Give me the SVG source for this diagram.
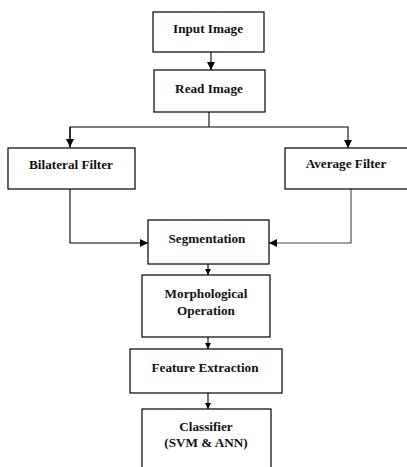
<svg xmlns="http://www.w3.org/2000/svg" width="407" height="467" viewBox="0 0 407 467">
<style>
.box{fill:#fff;stroke:#000;stroke-width:1.2}
.lbl{font-family:"Liberation Serif","Times New Roman",serif;font-weight:bold;font-size:13.2px;fill:#111;text-anchor:middle}
.ln{fill:none;stroke:#000;stroke-width:1.1}
</style>
<defs>
<marker id="ah" viewBox="0 0 8 8" refX="8" refY="4" markerWidth="8" markerHeight="8" markerUnits="userSpaceOnUse" orient="auto">
<path d="M0,0 L8,4 L0,8 z" fill="#000"/>
</marker>
<marker id="ahs" viewBox="0 0 6 6" refX="6" refY="3" markerWidth="6" markerHeight="7" markerUnits="userSpaceOnUse" orient="auto">
<path d="M0,0 L6,3 L0,6 z" fill="#000"/>
</marker>
</defs>
<rect width="407" height="467" fill="#fff"/>
<g id="connectors">
<line class="ln" x1="211" y1="52" x2="211" y2="70" marker-end="url(#ah)"/>
<polyline class="ln" points="209,112 209,127"/>
<polyline class="ln" points="70,148 70,127 348,127 348,148" marker-end="url(#ah)"/>
<line class="ln" x1="70" y1="127" x2="70" y2="147" marker-end="url(#ah)"/>
<polyline class="ln" points="70,189 70,243 148,243" marker-end="url(#ah)"/>
<polyline class="ln" style="stroke:#444" points="351,189 351,243 269,243" marker-end="url(#ah)"/>
<line class="ln" x1="208" y1="264" x2="208" y2="275" marker-end="url(#ahs)"/>
<line class="ln" x1="208" y1="337" x2="208" y2="349" marker-end="url(#ahs)"/>
<line class="ln" x1="208" y1="393" x2="208" y2="409" marker-end="url(#ahs)"/>
</g>
<g id="input-image">
<rect class="box" x="153" y="12" width="111" height="40"/>
<text class="lbl" x="208" y="33">Input Image</text>
</g>
<g id="read-image">
<rect class="box" x="154" y="70" width="111" height="42"/>
<text class="lbl" x="209" y="93">Read Image</text>
</g>
<g id="bilateral-filter">
<rect class="box" x="8" y="148" width="127" height="41"/>
<text class="lbl" x="71" y="169">Bilateral Filter</text>
</g>
<g id="average-filter">
<rect class="box" x="285" y="148" width="124" height="41"/>
<text class="lbl" x="346" y="168">Average Filter</text>
</g>
<g id="segmentation">
<rect class="box" x="148" y="220" width="121" height="44"/>
<text class="lbl" x="207" y="243">Segmentation</text>
</g>
<g id="morphological-operation">
<rect class="box" x="142" y="275" width="128" height="62"/>
<text class="lbl" x="206" y="298">Morphological</text>
<text class="lbl" x="206" y="315">Operation</text>
</g>
<g id="feature-extraction">
<rect class="box" x="130" y="349" width="152" height="44"/>
<text class="lbl" x="205" y="372">Feature Extraction</text>
</g>
<g id="classifier">
<rect class="box" x="142" y="409" width="129" height="62"/>
<text class="lbl" x="206" y="431">Classifier</text>
<text class="lbl" x="206" y="447">(SVM &amp; ANN)</text>
</g>
</svg>
